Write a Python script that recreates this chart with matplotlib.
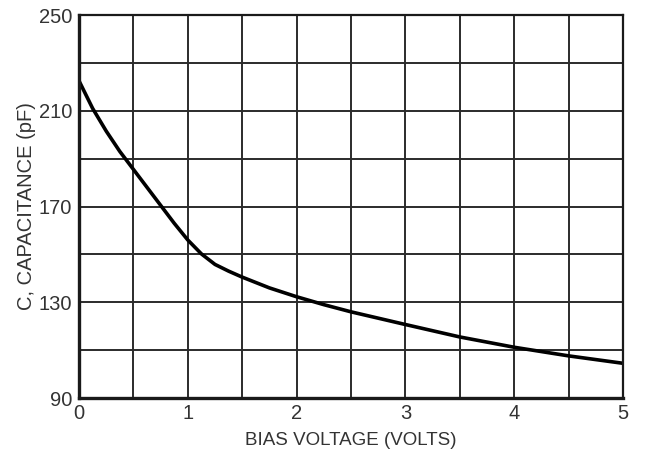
import matplotlib.pyplot as plt
import numpy as np

# bias voltage (V) and capacitance (pF)
bias_v = [0, 0.125, 0.25, 0.375, 0.5, 0.625, 0.75, 0.875, 1.0, 1.125, 1.25, 1.375,
          1.5, 1.75, 2.0, 2.25, 2.5, 3.0, 3.5, 4.0, 4.5, 5.0]
cap_pf = [222.5, 211, 201.5, 193, 185.5, 178, 170.5, 163, 156, 150.2, 145.8, 143,
          140.5, 136, 132.3, 129, 126, 120.7, 115.5, 111.2, 107.6, 104.5]

x_ticks = [0, 1, 2, 3, 4, 5]
y_ticks = [90, 130, 170, 210, 250]

plt.rcParams['font.family'] = ['Liberation Sans', 'DejaVu Sans']

fig = plt.figure(figsize=(6.45, 4.62), dpi=100)
ax = fig.add_axes([0.1225, 0.1385, 0.8435, 0.829])

# grid every 0.5 V and 20 pF
for gx in np.arange(0.5, 5.0, 0.5):
    ax.axvline(gx, color='#2b2b2b', lw=1.4, zorder=1)
for gy in np.arange(110, 250, 20):
    ax.axhline(gy, color='#2b2b2b', lw=1.4, zorder=1)

ax.plot(bias_v, cap_pf, color='black', lw=2.6, zorder=3,
        solid_capstyle='round', solid_joinstyle='round')

ax.set_xlim(0, 5)
ax.set_ylim(90, 250)
ax.set_xticks(x_ticks)
ax.set_yticks(y_ticks)
ax.tick_params(length=0, labelsize=14.5, labelcolor='#333333', pad=5)
ax.tick_params(axis='x', pad=4)

for s in ax.spines.values():
    s.set_linewidth(2.4)
    s.set_color('#1a1a1a')
    s.set_zorder(4)
ax.spines['top'].set_linewidth(1.6)
ax.spines['right'].set_linewidth(1.6)

ax.set_xlabel('BIAS VOLTAGE (VOLTS)', fontsize=13.5, color='#333333', labelpad=7)
ax.set_ylabel('C, CAPACITANCE (pF)', fontsize=14.5, color='#333333', labelpad=2)

fig.savefig('out.png', dpi=100)
